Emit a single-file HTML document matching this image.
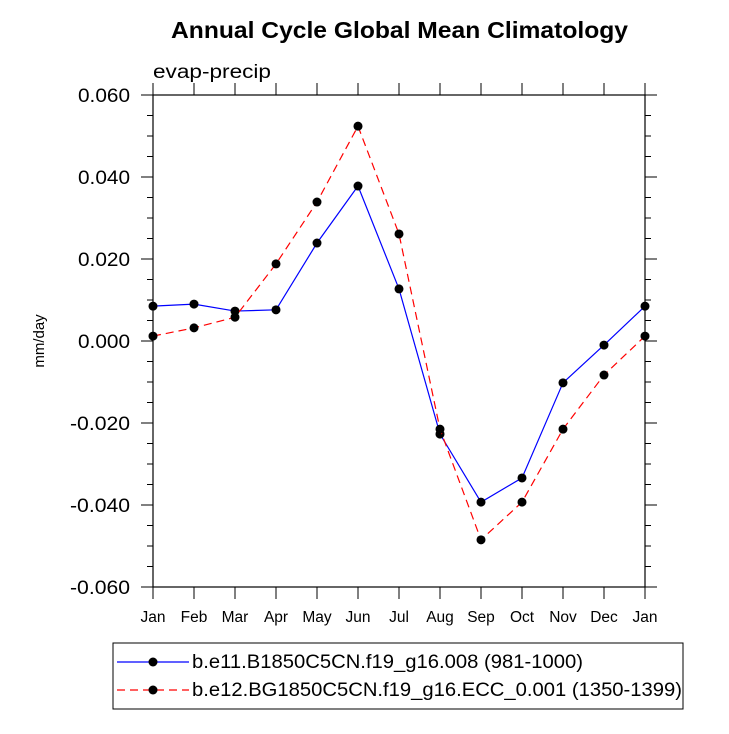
<!DOCTYPE html>
<html><head><meta charset="utf-8"><style>body{margin:0;background:#fff}svg text{font-family:"Liberation Sans",sans-serif}</style></head>
<body>
<svg id="c" width="729" height="729" xmlns="http://www.w3.org/2000/svg">
<text x="171" y="38" textLength="457" lengthAdjust="spacingAndGlyphs" font-size="23" font-weight="bold">Annual Cycle Global Mean Climatology</text>
<text x="153" y="78" textLength="118" lengthAdjust="spacingAndGlyphs" font-size="19">evap-precip</text>
<text transform="translate(44,341) rotate(-90)" text-anchor="middle" font-size="15">mm/day</text>
<g id="axes"></g>
<g id="series"></g>
<g id="legend">
<rect x="113" y="643" width="570" height="66" fill="none" stroke="#000" stroke-width="1"/>
<line x1="117" y1="662" x2="189" y2="662" stroke="#0000ff" stroke-width="1.2"/>
<circle cx="153" cy="662" r="4.5" fill="#000"/>
<text x="192" y="668" textLength="391" lengthAdjust="spacingAndGlyphs" font-size="19">b.e11.B1850C5CN.f19_g16.008 (981-1000)</text>
<line x1="117" y1="690" x2="189" y2="690" stroke="#ff0000" stroke-width="1.2" stroke-dasharray="8,5"/>
<circle cx="153" cy="690" r="4.5" fill="#000"/>
<text x="192" y="696" textLength="490" lengthAdjust="spacingAndGlyphs" font-size="19">b.e12.BG1850C5CN.f19_g16.ECC_0.001 (1350-1399)</text>
</g>
</svg>
<script>
const months=["Jan","Feb","Mar","Apr","May","Jun","Jul","Aug","Sep","Oct","Nov","Dec","Jan"];
const yTicks=[0.06,0.04,0.02,0,-0.02,-0.04,-0.06];
const yTickLabels=["0.060","0.040","0.020","0.000","-0.020","-0.040","-0.060"];
const blueValues=[0.0085,0.0090,0.0073,0.0076,0.0239,0.0378,0.0127,-0.0227,-0.0393,-0.0334,-0.0102,-0.0010,0.0085];
const redValues=[0.0012,0.0032,0.0058,0.0188,0.0339,0.0524,0.0261,-0.0215,-0.0485,-0.0393,-0.0215,-0.0083,0.0012];
const L=153,R=645,T=95,B=587,ymin=-0.06,ymax=0.06;
const xs=i=>L+(R-L)*i/(months.length-1);
const ys=v=>B-(v-ymin)/(ymax-ymin)*(B-T);
const NS="http://www.w3.org/2000/svg";
function mk(tag,attrs,parent){const e=document.createElementNS(NS,tag);for(const k in attrs)e.setAttribute(k,attrs[k]);parent.appendChild(e);return e;}
const ax=document.getElementById('axes');
const frame=mk('rect',{x:L,y:T,width:R-L,height:B-T,fill:'none',stroke:'#000','stroke-width':1.2},ax);


months.forEach((m,i)=>{const x=xs(i);
mk('line',{x1:x,y1:B,x2:x,y2:B+12,stroke:'#000'},ax);
mk('line',{x1:x,y1:T,x2:x,y2:T-12,stroke:'#000'},ax);
const t=mk('text',{x:x,y:B+35,'text-anchor':'middle','font-size':15.5},ax);t.textContent=m;

});
for(let v=ymin;v<=ymax+1e-9;v+=0.005){const y=ys(v);const major=Math.abs(Math.round(v*1000)%20)===0;const len=major?12:6;
mk('line',{x1:L,y1:y,x2:L-len,y2:y,stroke:'#000'},ax);
mk('line',{x1:R,y1:y,x2:R+len,y2:y,stroke:'#000'},ax);}
yTicks.forEach((v,i)=>{const lbl=yTickLabels[i];const t=mk('text',{x:L-23,y:ys(v)+7,'text-anchor':'end','font-size':19,textLength:lbl.length>5?60:52,lengthAdjust:'spacingAndGlyphs'},ax);t.textContent=lbl;

});
const sg=document.getElementById('series');
function draw(vals,color,dash,name){
const p=mk('polyline',{points:vals.map((v,i)=>xs(i)+','+ys(v)).join(' '),fill:'none',stroke:color,'stroke-width':1.2},sg);
if(dash)p.setAttribute('stroke-dasharray',dash);


vals.forEach((v,i)=>{const c=mk('circle',{cx:xs(i),cy:ys(v),r:4.5,fill:'#000'},sg);

});}
draw(blueValues,'#0000ff',null,'blue-series');
draw(redValues,'#ff0000','8,5','red-series');
</script>
</body></html>
